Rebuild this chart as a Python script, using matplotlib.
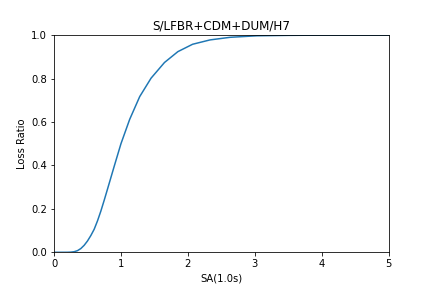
import matplotlib
matplotlib.use("Agg")
import matplotlib.pyplot as plt

# values
sa = [0.02, 0.1, 0.2, 0.25, 0.3, 0.35, 0.4, 0.45, 0.5, 0.55, 0.6, 0.65, 0.7,
      0.75, 0.8, 0.9, 1.0, 1.13, 1.28, 1.45, 1.65, 1.85, 2.07, 2.33, 2.63,
      3.03, 3.5, 4.0, 5.0]
loss = [0.0, 0.0, 0.0001, 0.0007, 0.0026, 0.0074, 0.017, 0.032, 0.052, 0.077,
        0.106, 0.145, 0.19, 0.24, 0.292, 0.397, 0.5, 0.612, 0.717, 0.802,
        0.874, 0.924, 0.958, 0.978, 0.990, 0.997, 0.999, 1.0, 1.0]

fig = plt.figure(figsize=(6, 4), dpi=72)
ax = fig.add_subplot(111)
fig.subplots_adjust(left=0.125, right=0.9, top=0.878, bottom=0.124)

ax.plot(sa, loss)
ax.set_xlim(0, 5)
ax.set_ylim(0, 1)
ax.set_xlabel("SA(1.0s)")
ax.set_ylabel("Loss Ratio")
ax.set_title("S/LFBR+CDM+DUM/H7")

fig.savefig("out.png", dpi=72)
